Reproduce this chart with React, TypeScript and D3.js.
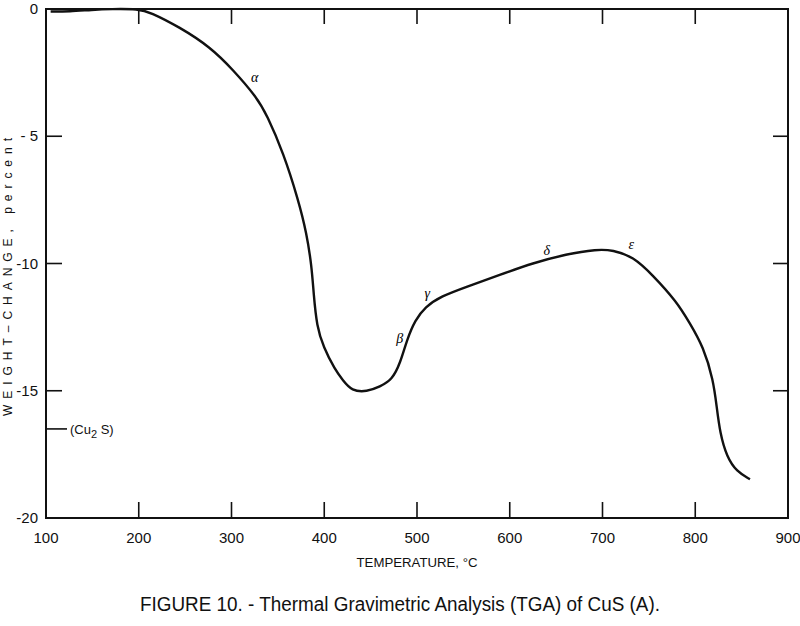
import React from "react";
import * as d3 from "d3";

const temperatures = [105, 125, 150, 170, 200, 212, 244, 277, 302, 327, 338, 356, 372, 381, 386.5, 388.5, 392, 399, 411.6, 420, 429.6, 446, 460, 473, 482, 489, 498, 509, 525, 554, 589, 625, 661, 694, 711, 733, 754, 780, 794, 808.7, 819.5, 823.1, 826.7, 833.9, 844.7, 859];
const weightChange = [-0.1, -0.1, -0.03, 0, 0, -0.12, -0.71, -1.49, -2.4, -3.46, -4.15, -5.66, -7.5, -8.81, -10.13, -11.17, -12.48, -13.27, -14.18, -14.58, -15.01, -15.04, -14.84, -14.58, -13.91, -13.01, -12.22, -11.71, -11.3, -10.91, -10.45, -9.98, -9.63, -9.44, -9.47, -9.73, -10.45, -11.5, -12.34, -13.27, -14.58, -15.63, -16.66, -17.59, -18.18, -18.48];

const xTicks = [100, 200, 300, 400, 500, 600, 700, 800, 900];
const yTicks = [0, -5, -10, -15, -20];
const yTickLabels = ["0", "- 5", "-10", "-15", "-20"];
const cu2sLevel = -16.5;

const phaseLabels = [
  { t: "α", x: 325, y: -2.67 },
  { t: "β", x: 481.5, y: -12.93 },
  { t: "γ", x: 511, y: -11.16 },
  { t: "δ", x: 640, y: -9.47 },
  { t: "ε", x: 731, y: -9.23 },
];

const L = 46, R = 788, T = 9, B = 518;

export default function App() {
  const x = d3.scaleLinear().domain([100, 900]).range([L, R]);
  const y = d3.scaleLinear().domain([0, -20]).range([T, B]);
  const pts = temperatures.map((t, i) => [t, weightChange[i]] as [number, number]);
  const line = d3
    .line<[number, number]>()
    .x((d) => x(d[0]))
    .y((d) => y(d[1]))
    .curve(d3.curveBasis);
  const font = "'Liberation Sans', Arial, sans-serif";
  return (
    <svg
      width={800}
      height={626}
      style={{ position: "absolute", left: 0, top: 0, background: "#fff" }}
    >
      <rect x={0} y={0} width={800} height={626} fill="#fff" />
      <rect x={L} y={T} width={R - L} height={B - T} fill="none" stroke="#111" strokeWidth={2} />
      {xTicks.slice(1, -1).map((v) => (
        <g key={"xt" + v}>
          <line x1={x(v)} x2={x(v)} y1={T} y2={T + 15} stroke="#111" strokeWidth={1.6} />
          <line x1={x(v)} x2={x(v)} y1={B} y2={B - 16} stroke="#111" strokeWidth={1.6} />
        </g>
      ))}
      {xTicks.map((v) => (
        <text key={"xl" + v} x={x(v)} y={543} textAnchor="middle" fontFamily={font} fontSize={15} fill="#111">
          {v}
        </text>
      ))}
      {yTicks.slice(1, -1).map((v) => (
        <g key={"yt" + v}>
          <line x1={L} x2={L + 16} y1={y(v)} y2={y(v)} stroke="#111" strokeWidth={1.6} />
          <line x1={R} x2={R - 15} y1={y(v)} y2={y(v)} stroke="#111" strokeWidth={1.6} />
        </g>
      ))}
      {yTicks.map((v, i) => (
        <text key={"yl" + v} x={38} y={y(v) + 5} textAnchor="end" fontFamily={font} fontSize={15} fill="#111">
          {yTickLabels[i]}
        </text>
      ))}
      <line x1={L} x2={L + 21} y1={y(cu2sLevel)} y2={y(cu2sLevel)} stroke="#111" strokeWidth={1.6} />
      <text x={70} y={y(cu2sLevel) + 5} fontFamily={font} fontSize={13} fill="#111">
        (Cu<tspan dy={4} fontSize={11}>2</tspan>
        <tspan dy={-4}> S)</tspan>
      </text>
      <path d={line(pts) || ""} fill="none" stroke="#111" strokeWidth={2.4} strokeLinejoin="round" />
      {phaseLabels.map((p) => (
        <text
          key={p.t}
          x={x(p.x)}
          y={y(p.y)}
          dy="0.35em"
          textAnchor="middle"
          fontFamily="'Liberation Serif', serif"
          fontStyle="italic"
          fontSize={14}
          fill="#000"
          stroke="none"
        >
          {p.t}
        </text>
      ))}
      <text x={417} y={567} textAnchor="middle" fontFamily={font} fontSize={13} fill="#111" textLength={121} lengthAdjust="spacingAndGlyphs">
        TEMPERATURE, °C
      </text>
      <text
        transform="translate(12,277) rotate(-90)"
        textAnchor="middle"
        fontFamily={font}
        fontSize={12}
        fill="#111"
        textLength={278}
        lengthAdjust="spacing"
      >
        WEIGHT–CHANGE, percent
      </text>
      <text x={400} y={611} textAnchor="middle" fontFamily={font} fontSize={20} fill="#111" textLength={520} lengthAdjust="spacingAndGlyphs">
        FIGURE 10. - Thermal Gravimetric Analysis (TGA) of CuS (A).
      </text>
    </svg>
  );
}
